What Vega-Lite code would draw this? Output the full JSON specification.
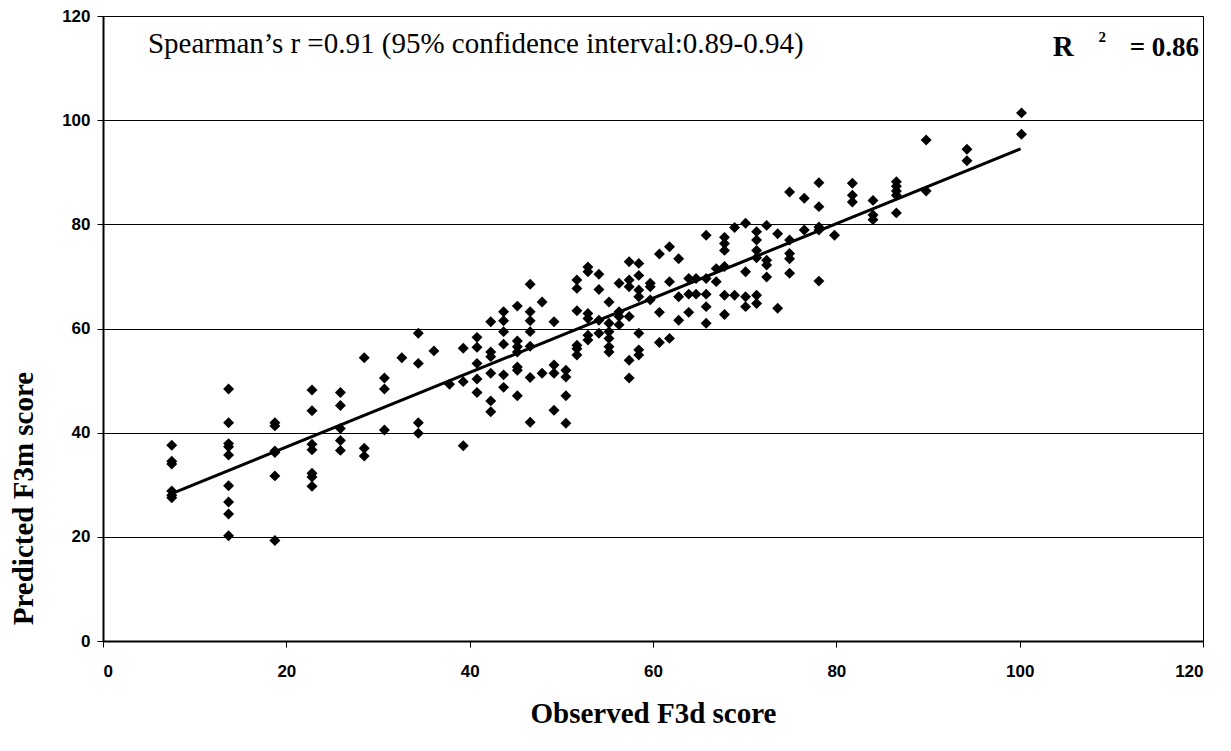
{
  "$schema": "https://vega.github.io/schema/vega-lite/v6.json",
  "width": 1100,
  "height": 625,
  "autosize": {"type": "none"},
  "padding": {"left": 103, "top": 16, "right": 28, "bottom": 110},
  "background": "white",
  "config": {
    "view": {"stroke": "black", "strokeWidth": 1},
    "axis": {
      "labelFont": "Liberation Sans",
      "labelFontWeight": "bold",
      "labelFontSize": 17,
      "labelColor": "black",
      "titleFont": "Liberation Serif",
      "titleFontWeight": "bold",
      "titleFontSize": 29,
      "titleColor": "black",
      "domainColor": "black",
      "domainWidth": 2,
      "tickColor": "black",
      "tickSize": 6,
      "tickWidth": 1
    }
  },
  "datasets": {
    "pts": [
      {"x":7.5,"y":37.6},{"x":7.5,"y":34.5},{"x":7.5,"y":34.0},{"x":7.5,"y":28.8},{"x":7.5,"y":28.0},{"x":7.5,"y":27.5},
      {"x":13.7,"y":48.4},{"x":13.7,"y":41.9},{"x":13.7,"y":37.9},{"x":13.7,"y":37.3},{"x":13.7,"y":35.7},{"x":13.7,"y":29.8},{"x":13.7,"y":26.7},{"x":13.7,"y":24.4},{"x":13.7,"y":20.2},
      {"x":18.75,"y":41.9},{"x":18.75,"y":41.3},{"x":18.75,"y":36.5},{"x":18.75,"y":36.2},{"x":18.75,"y":31.7},{"x":18.75,"y":19.3},
      {"x":22.8,"y":48.2},{"x":22.8,"y":44.2},{"x":22.8,"y":37.8},{"x":22.8,"y":36.7},{"x":22.8,"y":32.2},{"x":22.8,"y":31.5},{"x":22.8,"y":29.7},
      {"x":25.9,"y":47.7},{"x":25.9,"y":45.2},{"x":25.9,"y":40.8},{"x":25.9,"y":38.5},{"x":25.9,"y":36.6},
      {"x":28.5,"y":54.4},{"x":28.5,"y":37.0},{"x":28.5,"y":35.5},
      {"x":30.7,"y":50.5},{"x":30.7,"y":48.4},{"x":30.7,"y":40.5},
      {"x":32.6,"y":54.4},
      {"x":34.4,"y":59.1},{"x":34.4,"y":53.3},{"x":34.4,"y":41.9},{"x":34.4,"y":39.9},
      {"x":36.1,"y":55.7},
      {"x":37.8,"y":49.3},
      {"x":39.3,"y":56.2},{"x":39.3,"y":49.8},{"x":39.3,"y":37.5},
      {"x":40.8,"y":58.3},{"x":40.8,"y":56.4},{"x":40.8,"y":53.3},{"x":40.8,"y":50.3},{"x":40.8,"y":47.7},
      {"x":42.3,"y":61.3},{"x":42.3,"y":55.5},{"x":42.3,"y":54.6},{"x":42.3,"y":51.4},{"x":42.3,"y":46.1},{"x":42.3,"y":44.0},
      {"x":43.7,"y":63.2},{"x":43.7,"y":61.5},{"x":43.7,"y":59.4},{"x":43.7,"y":57.0},{"x":43.7,"y":51.1},{"x":43.7,"y":48.7},
      {"x":45.2,"y":64.3},{"x":45.2,"y":57.6},{"x":45.2,"y":56.5},{"x":45.2,"y":55.5},{"x":45.2,"y":52.6},{"x":45.2,"y":52.0},{"x":45.2,"y":47.1},
      {"x":46.6,"y":68.5},{"x":46.6,"y":63.2},{"x":46.6,"y":61.5},{"x":46.6,"y":59.4},{"x":46.6,"y":56.6},{"x":46.6,"y":50.6},{"x":46.6,"y":42.0},
      {"x":47.9,"y":65.1},{"x":47.9,"y":51.4},
      {"x":49.2,"y":61.3},{"x":49.2,"y":53.0},{"x":49.2,"y":51.4},{"x":49.2,"y":44.3},
      {"x":50.5,"y":52.0},{"x":50.5,"y":50.7},{"x":50.5,"y":47.1},{"x":50.5,"y":41.8},
      {"x":51.7,"y":69.3},{"x":51.7,"y":67.7},{"x":51.7,"y":63.4},{"x":51.7,"y":56.8},{"x":51.7,"y":56.1},{"x":51.7,"y":54.9},
      {"x":52.9,"y":71.8},{"x":52.9,"y":70.9},{"x":52.9,"y":62.9},{"x":52.9,"y":61.9},{"x":52.9,"y":58.7},{"x":52.9,"y":57.8},
      {"x":54.1,"y":70.4},{"x":54.1,"y":67.5},{"x":54.1,"y":61.6},{"x":54.1,"y":59.1},
      {"x":55.2,"y":65.1},{"x":55.2,"y":61.0},{"x":55.2,"y":59.4},{"x":55.2,"y":58.1},{"x":55.2,"y":56.5},{"x":55.2,"y":55.5},
      {"x":56.3,"y":68.7},{"x":56.3,"y":63.2},{"x":56.3,"y":62.3},{"x":56.3,"y":60.7},
      {"x":57.4,"y":72.8},{"x":57.4,"y":69.3},{"x":57.4,"y":68.0},{"x":57.4,"y":62.3},{"x":57.4,"y":53.9},{"x":57.4,"y":50.5},
      {"x":58.45,"y":72.5},{"x":58.45,"y":70.2},{"x":58.45,"y":67.4},{"x":58.45,"y":66.1},{"x":58.45,"y":59.1},{"x":58.45,"y":55.9},{"x":58.45,"y":54.9},
      {"x":59.7,"y":68.7},{"x":59.7,"y":68.0},{"x":59.7,"y":65.5},
      {"x":60.7,"y":74.3},{"x":60.7,"y":63.1},{"x":60.7,"y":57.3},
      {"x":61.8,"y":75.7},{"x":61.8,"y":69.0},{"x":61.8,"y":58.1},
      {"x":62.8,"y":73.4},{"x":62.8,"y":66.1},{"x":62.8,"y":61.6},
      {"x":63.9,"y":69.6},{"x":63.9,"y":66.6},{"x":63.9,"y":63.1},
      {"x":64.7,"y":69.6},{"x":64.7,"y":66.6},
      {"x":65.8,"y":77.9},{"x":65.8,"y":69.6},{"x":65.8,"y":66.6},{"x":65.8,"y":64.2},{"x":65.8,"y":61.0},
      {"x":66.9,"y":71.5},{"x":66.9,"y":69.0},
      {"x":67.8,"y":77.5},{"x":67.8,"y":76.3},{"x":67.8,"y":75.0},{"x":67.8,"y":71.9},{"x":67.8,"y":66.4},{"x":67.8,"y":62.7},
      {"x":68.9,"y":79.4},{"x":68.9,"y":66.4},
      {"x":70.1,"y":80.2},{"x":70.1,"y":70.9},{"x":70.1,"y":66.1},{"x":70.1,"y":64.2},
      {"x":71.3,"y":78.6},{"x":71.3,"y":77.0},{"x":71.3,"y":75.0},{"x":71.3,"y":73.6},{"x":71.3,"y":66.4},{"x":71.3,"y":64.8},
      {"x":72.4,"y":79.8},{"x":72.4,"y":73.1},{"x":72.4,"y":72.2},{"x":72.4,"y":69.9},
      {"x":73.6,"y":78.2},{"x":73.6,"y":63.9},
      {"x":74.9,"y":86.2},{"x":74.9,"y":77.0},{"x":74.9,"y":74.4},{"x":74.9,"y":73.4},{"x":74.9,"y":70.6},
      {"x":76.5,"y":85.0},{"x":76.5,"y":78.9},
      {"x":78.1,"y":88.0},{"x":78.1,"y":83.4},{"x":78.1,"y":79.5},{"x":78.1,"y":78.9},{"x":78.1,"y":69.1},
      {"x":79.8,"y":77.9},
      {"x":81.75,"y":87.9},{"x":81.75,"y":85.6},{"x":81.75,"y":84.3},
      {"x":84.0,"y":84.6},{"x":84.0,"y":81.8},{"x":84.0,"y":80.9},
      {"x":86.55,"y":88.2},{"x":86.55,"y":87.3},{"x":86.55,"y":86.4},{"x":86.55,"y":85.6},{"x":86.55,"y":82.2},
      {"x":89.8,"y":96.2},{"x":89.8,"y":86.4},
      {"x":94.25,"y":94.4},{"x":94.25,"y":92.2},
      {"x":100.2,"y":101.4},{"x":100.2,"y":97.3}
    ],
    "fit": [
      {"x": 7.5, "y": 28.3},
      {"x": 100.1, "y": 94.5}
    ],
    "one": [{}]
  },
  "layer": [
    {
      "data": {"name": "pts"},
      "mark": {"type": "point", "shape": "diamond", "filled": true, "color": "black", "size": 120, "opacity": 1},
      "encoding": {
        "x": {
          "field": "x", "type": "quantitative",
          "scale": {"domain": [0, 120], "nice": false, "zero": false},
          "axis": {
            "title": "Observed F3d score",
            "values": [0, 20, 40, 60, 80, 100, 120],
            "format": "d",
            "grid": false,
            "labelPadding": 16,
            "titleY": 72,
            "titleBaseline": "middle"
          }
        },
        "y": {
          "field": "y", "type": "quantitative",
          "scale": {"domain": [0, 120], "nice": false, "zero": false},
          "axis": {
            "title": "Predicted F3m score",
            "values": [0, 20, 40, 60, 80, 100, 120],
            "format": "d",
            "grid": true,
            "gridColor": "black",
            "gridWidth": 1,
            "gridOpacity": 1,
            "labelPadding": 7,
            "titleX": -80,
            "titleY": 482,
            "titleAngle": 270,
            "titleAlign": "center",
            "titleBaseline": "middle"
          }
        }
      }
    },
    {
      "data": {"name": "fit"},
      "mark": {"type": "line", "color": "black", "strokeWidth": 3},
      "encoding": {
        "x": {"field": "x", "type": "quantitative"},
        "y": {"field": "y", "type": "quantitative"}
      }
    },
    {
      "data": {"name": "one"},
      "mark": {"type": "text", "align": "left", "baseline": "alphabetic", "font": "Liberation Serif", "fontSize": 29, "color": "black"},
      "encoding": {
        "x": {"datum": 4.9, "type": "quantitative"},
        "y": {"datum": 112.9, "type": "quantitative"},
        "text": {"value": "Spearman’s r =0.91 (95% confidence interval:0.89-0.94)"}
      }
    },
    {
      "data": {"name": "one"},
      "mark": {"type": "text", "align": "left", "baseline": "alphabetic", "font": "Liberation Serif", "fontWeight": "bold", "fontSize": 29, "color": "black"},
      "encoding": {
        "x": {"datum": 103.6, "type": "quantitative"},
        "y": {"datum": 112.3, "type": "quantitative"},
        "text": {"value": "R"}
      }
    },
    {
      "data": {"name": "one"},
      "mark": {"type": "text", "align": "left", "baseline": "alphabetic", "font": "Liberation Serif", "fontWeight": "bold", "fontSize": 15, "color": "black"},
      "encoding": {
        "x": {"datum": 108.6, "type": "quantitative"},
        "y": {"datum": 115.0, "type": "quantitative"},
        "text": {"value": "2"}
      }
    },
    {
      "data": {"name": "one"},
      "mark": {"type": "text", "align": "left", "baseline": "alphabetic", "font": "Liberation Serif", "fontWeight": "bold", "fontSize": 27, "color": "black"},
      "encoding": {
        "x": {"datum": 112.0, "type": "quantitative"},
        "y": {"datum": 112.3, "type": "quantitative"},
        "text": {"value": "= 0.86"}
      }
    }
  ]
}
